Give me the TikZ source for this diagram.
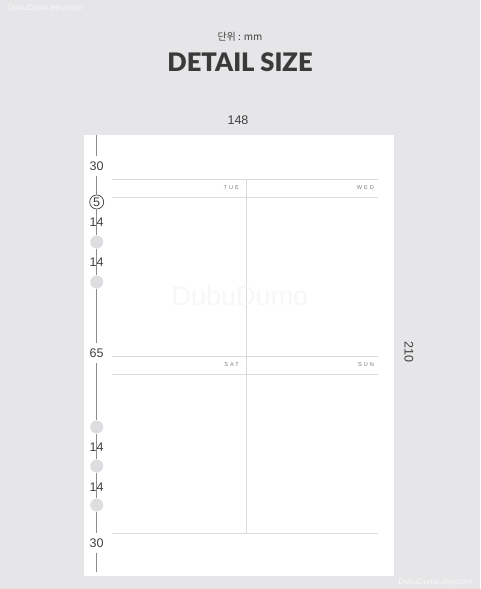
\documentclass[tikz,border=0pt]{standalone}
\usepackage{fontspec}
\setmainfont{Liberation Sans}
\newfontfamily\krfont{Noto Sans CJK KR}
\newfontfamily\titlefont{Lato Black}

\definecolor{bggray}{HTML}{E6E6E8}
\definecolor{textgray}{HTML}{404040}
\definecolor{rulergray}{HTML}{8C8C8C}
\definecolor{linegray}{HTML}{DADADA}
\definecolor{holegray}{HTML}{DEDEE0}
\definecolor{daygray}{HTML}{7A7A7A}
\definecolor{wmgray}{HTML}{F7F7F8}

\begin{document}
\begin{tikzpicture}[x=1pt,y=-1pt,
	dim/.style={font=\fontsize{12.5}{14}\selectfont, text=textgray, inner xsep=1pt, inner ysep=5pt},
	hole/.style={circle, fill=holegray, minimum size=13pt, inner sep=0pt},
	ruler/.style={draw=rulergray, line width=0.8pt},
	rule/.style={draw=linegray, line width=0.6pt},
	day/.style={font=\fontsize{5.6}{6}\selectfont\addfontfeature{LetterSpace=35}, text=daygray, anchor=east, inner sep=0pt},
	stamp/.style={font=\fontsize{8}{9}\selectfont, text=white!70!bggray, inner sep=0pt}]
	% Background and page
	\fill[bggray] (0,0) rectangle (480,589);
	\fill[white] (84,135) rectangle (394,576);

	% Headings
	\node[stamp, anchor=west] (wmtop) at (8,8) {DubuDumo.etsy.com};
	\node[text=textgray, font=\krfont\fontsize{10}{12}\selectfont] (unit) at (240,37) {단위 : mm};
	\node[text=textgray!90!black, font=\titlefont\fontsize{25.5}{28}\selectfont] (title) at (240,62) {DETAIL SIZE};
	\node[dim] (width) at (238,120) {148};
	\node[dim, rotate=-90] (height) at (409,352) {210};

	% Planner lines
	\draw[rule] (112,179) -- (378,179);
	\draw[rule] (112,197) -- (378,197);
	\draw[rule] (112,356) -- (378,356);
	\draw[rule] (112,374) -- (378,374);
	\draw[rule] (112,533) -- (378,533);
	\draw[rule] (246,179) -- (246,533);
	\node[day] (tue) at (239,188) {TUE};
	\node[day] (wed) at (374,188) {WED};
	\node[day] (sat) at (239,365) {SAT};
	\node[day] (sun) at (374,365) {SUN};
	\node[text=wmgray, font=\fontsize{27}{30}\selectfont] (wmmid) at (240,296) {DubuDumo};

	% Ruler
	\coordinate (rtop) at (96.7,135);
	\coordinate (rbot) at (96.7,572);
	\node[dim] (top30) at (96.7,166) {30};
	\node[dim, circle, draw=textgray, line width=0.7pt, inner sep=0.6pt, minimum size=14pt] (five) at (96.7,202) {5};
	\node[dim, inner ysep=0pt] (d14a) at (96.7,222) {14};
	\node[hole] (h1) at (96.7,242) {};
	\node[dim, inner ysep=0pt] (d14b) at (96.7,262) {14};
	\node[hole] (h2) at (96.7,282) {};
	\node[dim] (mid65) at (96.7,353) {65};
	\node[hole] (h3) at (96.7,427) {};
	\node[dim, inner ysep=0pt] (d14c) at (96.7,447) {14};
	\node[hole] (h4) at (96.7,466) {};
	\node[dim, inner ysep=0pt] (d14d) at (96.7,487) {14};
	\node[hole] (h5) at (96.7,505) {};
	\node[dim] (bot30) at (96.7,543) {30};

	\draw[ruler] (rtop) -- (top30);
	\draw[ruler] (top30) -- (five);
	\draw[ruler] (five) -- (h1);
	\draw[ruler] (h1) -- (h2);
	\draw[ruler] (h2) -- (mid65);
	\draw[ruler] (mid65) -- (h3);
	\draw[ruler] (h3) -- (h4);
	\draw[ruler] (h4) -- (h5);
	\draw[ruler] (h5) -- (bot30);
	\draw[ruler] (bot30) -- (rbot);

	\node[stamp, anchor=east] (wmbot) at (473,582) {DubuDumo.etsy.com};
\end{tikzpicture}
\end{document}
